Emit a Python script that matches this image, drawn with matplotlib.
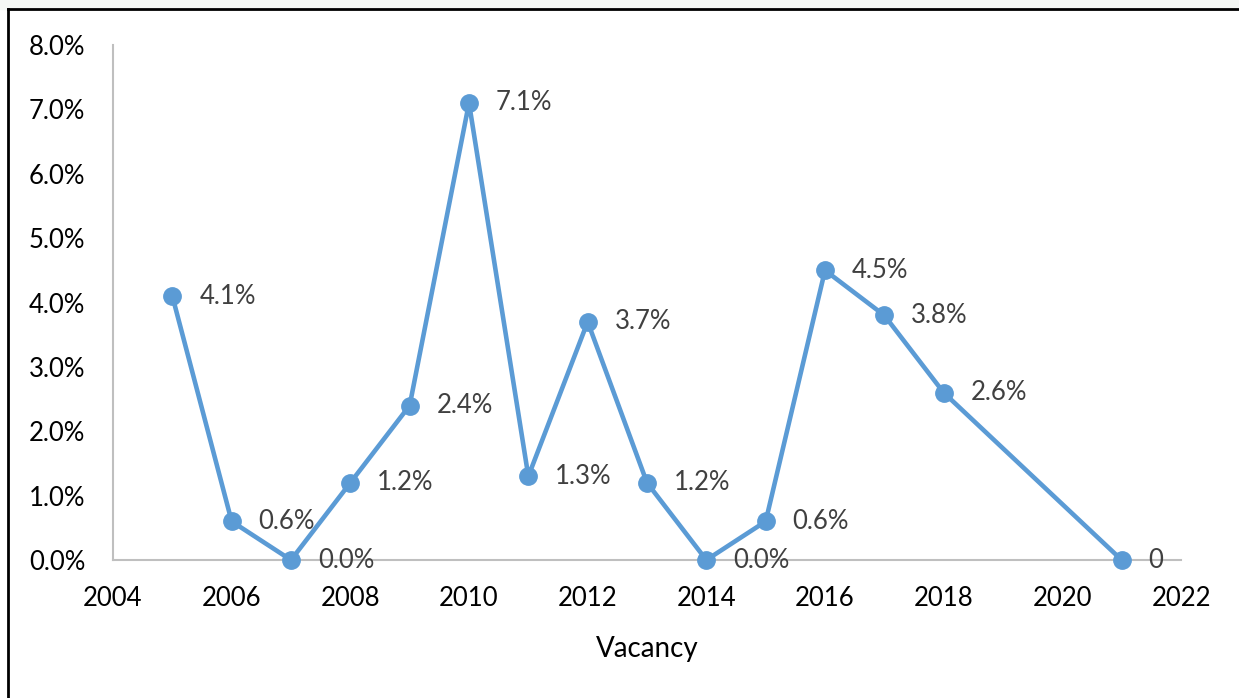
import matplotlib.pyplot as plt
from matplotlib.lines import Line2D
from matplotlib.patches import Rectangle
from matplotlib.ticker import FuncFormatter

years = [2005, 2006, 2007, 2008, 2009, 2010, 2011, 2012, 2013, 2014, 2015, 2016, 2017, 2018, 2021]
vacancy = [4.1, 0.6, 0.0, 1.2, 2.4, 7.1, 1.3, 3.7, 1.2, 0.0, 0.6, 4.5, 3.8, 2.6, 0.0]
labels = ['4.1%', '0.6%', '0.0%', '1.2%', '2.4%', '7.1%', '1.3%', '3.7%', '1.2%', '0.0%',
          '0.6%', '4.5%', '3.8%', '2.6%', '0']

plt.rcParams['font.family'] = ['Lato', 'DejaVu Sans']

fig = plt.figure(figsize=(12.39, 6.98), dpi=100)
ax = fig.add_axes([0.0912, 0.1977, 0.862, 0.7378])

ax.plot(years, vacancy, color='#5B9BD5', lw=3.3, marker='o', ms=12.5, zorder=3, clip_on=False)
for x, y, t in zip(years, vacancy, labels):
    ax.annotate(t, (x, y), xytext=(27, 0), textcoords='offset pixels',
                ha='left', va='center', fontsize=18.5, color='#404040')

ax.set_xlim(2004, 2022)
ax.set_ylim(0, 8)
ax.set_xticks(range(2004, 2023, 2))
ax.set_yticks(range(0, 9))
ax.yaxis.set_major_formatter(FuncFormatter(lambda v, p: '%.1f%%' % v))
ax.tick_params(length=0, labelsize=18.5, colors='black')
ax.tick_params(axis='x', pad=19)
ax.tick_params(axis='y', pad=20)

for s in ['top', 'right']:
    ax.spines[s].set_visible(False)
for s in ['left', 'bottom']:
    ax.spines[s].set_color('#BFBFBF')
    ax.spines[s].set_linewidth(1.5)

ax.set_xlabel('Vacancy', fontsize=20, labelpad=18)

# light strip above the frame, then the outer frame (left and top edges visible)
fig.add_artist(Rectangle((0, 0.987), 1, 0.013, color='#F4F7F4', transform=fig.transFigure, zorder=0))
fig.add_artist(Line2D([0.0065, 0.0065], [0, 0.987], color='black', lw=2, transform=fig.transFigure))
fig.add_artist(Line2D([0.0065, 1], [0.987, 0.987], color='black', lw=2, transform=fig.transFigure))

fig.savefig('out.png', dpi=100)
